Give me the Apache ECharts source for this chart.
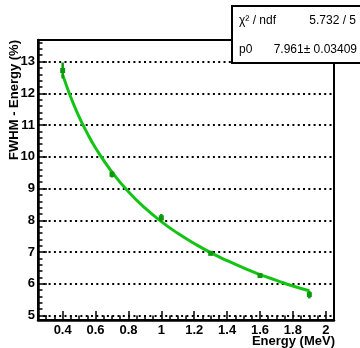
<!DOCTYPE html>
<html><head><meta charset="utf-8">
<script src="https://cdn.jsdelivr.net/npm/echarts@6/dist/echarts.min.js"></script>
<style>html,body{margin:0;padding:0;background:#fff}#c{width:360px;height:348px}</style>
</head><body><div id="c"></div>
<script>
// measured points (Energy in MeV, FWHM in %), with error bars
const energies = [0.4, 0.7, 1.0, 1.3, 1.6, 1.9];
const fwhm = [12.72, 9.45, 8.08, 6.96, 6.26, 5.66];
const fwhmErr = [0.25, 0.10, 0.12, 0.06, 0.07, 0.12];
// fit curve
const fitX = [0.4, 0.45, 0.5, 0.55, 0.6, 0.7, 0.8, 0.9, 1.0, 1.1, 1.2, 1.3, 1.4, 1.5, 1.6, 1.7, 1.8, 1.9];
const fitY = [12.59, 11.87, 11.26, 10.74, 10.28, 9.52, 8.90, 8.39, 7.96, 7.59, 7.27, 6.98, 6.73, 6.50, 6.29, 6.11, 5.93, 5.78];
// ticks
const xTicks = [0.4, 0.6, 0.8, 1.0, 1.2, 1.4, 1.6, 1.8, 2.0];
const xMinorTicks = [0.25, 0.3, 0.35, 0.45, 0.5, 0.55, 0.65, 0.7, 0.75, 0.85, 0.9, 0.95, 1.05, 1.1, 1.15, 1.25, 1.3, 1.35, 1.45, 1.5, 1.55, 1.65, 1.7, 1.75, 1.85, 1.9, 1.95, 2.05];
const yTicks = [5, 6, 7, 8, 9, 10, 11, 12, 13];
const yMinorTicks = [5.2, 5.4, 5.6, 5.8, 6.2, 6.4, 6.6, 6.8, 7.2, 7.4, 7.6, 7.8, 8.2, 8.4, 8.6, 8.8, 9.2, 9.4, 9.6, 9.8, 10.2, 10.4, 10.6, 10.8, 11.2, 11.4, 11.6, 11.8, 12.2, 12.4, 12.6, 12.8, 13.2, 13.4, 13.6];
const xTitle = 'Energy (MeV)';
const yTitle = 'FWHM - Energy (%)';
const statRows = [['χ² / ndf', '5.732 / 5'], ['p0', '7.961± 0.03409']];

const X_MIN = 0.25, X_MAX = 2.05, Y_MIN = 4.86, Y_MAX = 13.68;
const FONT = 'Liberation Sans, Arial, Helvetica, sans-serif';
const chart = echarts.init(document.getElementById('c'), null, {renderer: 'canvas'});

const pointData = energies.map((e, i) => [e, fwhm[i], fwhmErr[i]]);
const fitData = fitX.map((x, i) => [x, fitY[i]]);

const lbl = {fontFamily: FONT, fontSize: 13, fontWeight: 'bold', color: '#000'};
const grid = {left: 38, right: 26, top: 40, bottom: 28, show: true, borderColor: '#000', borderWidth: 2, backgroundColor: '#fff'};

chart.setOption({
  animation: false,
  backgroundColor: '#fff',
  grid: grid,
  xAxis: [{
    type: 'value', min: X_MIN, max: X_MAX, position: 'bottom',
    axisLine: {show: true, lineStyle: {color: '#000', width: 2.5}},
    axisTick: {show: true, inside: true, length: 9, customValues: xTicks, lineStyle: {color: '#000', width: 1.5}},
    axisLabel: {show: true, customValues: xTicks, margin: 4, ...lbl, formatter: v => String(Math.round(v * 10) / 10)},
    splitLine: {show: false}
  }, {
    type: 'value', min: X_MIN, max: X_MAX, position: 'bottom',
    axisLine: {show: false},
    axisTick: {show: true, inside: true, length: 4.5, customValues: xMinorTicks, lineStyle: {color: '#000', width: 1.5}},
    axisLabel: {show: false},
    splitLine: {show: false}
  }],
  yAxis: [{
    type: 'value', min: Y_MIN, max: Y_MAX, position: 'left', splitNumber: 9,
    axisLine: {show: true, lineStyle: {color: '#000', width: 2.5}},
    axisTick: {show: true, inside: true, length: 9, customValues: yTicks, lineStyle: {color: '#000', width: 1.5}},
    axisLabel: {show: true, customValues: yTicks, margin: 3, ...lbl},
    splitLine: {show: true, lineStyle: {color: '#000', width: 2, type: [2, 3.3]}}
  }, {
    type: 'value', min: Y_MIN, max: Y_MAX, position: 'left',
    axisLine: {show: false},
    axisTick: {show: true, inside: true, length: 4.5, customValues: yMinorTicks, lineStyle: {color: '#000', width: 1.5}},
    axisLabel: {show: false},
    splitLine: {show: false}
  }],
  series: [{
    type: 'line', name: 'fit', data: fitData, smooth: true, showSymbol: false, symbol: 'none',
    lineStyle: {color: '#14c414', width: 3}, z: 3
  }, {
    type: 'custom', name: 'data', data: pointData, z: 4,
    renderItem: function (params, api) {
      const x = api.value(0), y = api.value(1), e = api.value(2);
      const lo = api.coord([x, y - e]);
      const hi = api.coord([x, y + e]);
      const c = api.coord([x, y]);
      return {
        type: 'group',
        children: [
          {type: 'line', shape: {x1: lo[0], y1: lo[1], x2: hi[0], y2: hi[1]}, style: {stroke: '#0c9a0c', lineWidth: 2.5}},
          {type: 'rect', shape: {x: c[0] - 2.5, y: c[1] - 2.5, width: 5, height: 5}, style: {fill: '#0c9a0c'}}
        ]
      };
    }
  }],
  graphic: [
    {type: 'text', x: 335, y: 341, style: {text: xTitle, font: 'bold 13px ' + FONT, fill: '#000', align: 'right', verticalAlign: 'middle'}},
    {type: 'text', x: 14, y: 40, rotation: Math.PI / 2, style: {text: yTitle, font: 'bold 13px ' + FONT, fill: '#000', align: 'right', verticalAlign: 'middle'}},
    {type: 'rect', shape: {x: 232, y: 6, width: 140, height: 57}, style: {fill: '#fff', stroke: '#000', lineWidth: 2}, z: 100},
    {type: 'text', x: 239, y: 21, z: 101, style: {text: statRows[0][0], font: '12px ' + FONT, fill: '#000', align: 'left', verticalAlign: 'middle'}},
    {type: 'text', x: 356, y: 21, z: 101, style: {text: statRows[0][1], font: '12px ' + FONT, fill: '#000', align: 'right', verticalAlign: 'middle'}},
    {type: 'text', x: 239, y: 50, z: 101, style: {text: statRows[1][0], font: '12px ' + FONT, fill: '#000', align: 'left', verticalAlign: 'middle'}},
    {type: 'text', x: 357, y: 50, z: 101, style: {text: statRows[1][1], font: '12px ' + FONT, fill: '#000', align: 'right', verticalAlign: 'middle'}}
  ]
});
</script></body></html>
